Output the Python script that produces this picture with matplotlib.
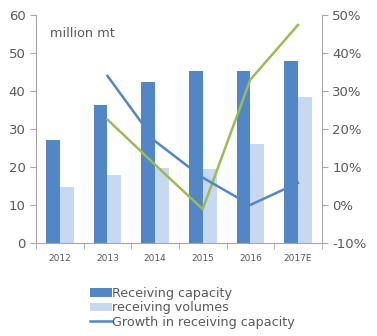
import matplotlib

matplotlib.use("Agg")
import matplotlib.pyplot as plt
import numpy as np

YEARS = ["2012", "2013", "2014", "2015", "2016", "2017E"]
CAPACITY = [27.1, 36.3, 42.4, 45.3, 45.3, 48.0]
VOLUMES = [14.7, 17.9, 19.8, 19.6, 26.1, 38.5]
# growth rates in percent, first year has no prior value
CAPACITY_GROWTH = [None, 34.0, 16.8, 7.2, 0.0, 5.8]
VOLUME_GROWTH = [None, 22.5, 10.6, -1.1, 33.0, 47.4]

DARK = "#5287c6"
LIGHT = "#c6d9f1"
GREEN = "#9bbb59"
GRAY = "#595959"
SPINE = "#a6a6a6"

fig = plt.figure(figsize=(3.77, 3.36), dpi=100)
ax = fig.add_axes([0.0955, 0.277, 0.758, 0.678])
x = np.arange(len(YEARS))
width = 0.29

ax.bar(x - width / 2, CAPACITY, width, color=DARK, label="Receiving capacity", zorder=2)
ax.bar(x + width / 2, VOLUMES, width, color=LIGHT, label="receiving volumes", zorder=2)
ax.set_xlim(-0.5, len(YEARS) - 0.5)
ax.set_ylim(0, 60)
ax.set_yticks(range(0, 61, 10))
ax.set_xticks(x, YEARS)
ax.set_xticks(np.arange(-0.5, len(YEARS)), minor=True)
ax.tick_params(axis="x", which="major", length=0, labelsize=6.5, labelcolor=GRAY, pad=8)
ax.tick_params(axis="x", which="minor", length=4, color=SPINE, direction="out")
ax.tick_params(axis="y", length=4, color=SPINE, labelsize=9.5, labelcolor=GRAY)
for side in ["top", "right"]:
    ax.spines[side].set_visible(False)
for side in ["left", "bottom"]:
    ax.spines[side].set_color(SPINE)
ax.text(0.05, 0.95, "million mt", transform=ax.transAxes, fontsize=9.3, color=GRAY, va="top")

ax2 = ax.twinx()
xs = x[1:]
ax2.plot(xs, VOLUME_GROWTH[1:], color=GREEN, linewidth=1.8, zorder=3)
ax2.plot(xs, CAPACITY_GROWTH[1:], color=DARK, linewidth=1.8, zorder=3,
         label="Growth in receiving capacity")
ax2.set_ylim(-10, 50)
ax2.set_yticks(range(-10, 51, 10))
ax2.set_yticklabels([f"{v}%" for v in range(-10, 51, 10)])
ax2.tick_params(axis="y", length=4, color=SPINE, labelsize=9.5, labelcolor=GRAY)
for side in ["top", "left", "bottom"]:
    ax2.spines[side].set_visible(False)
ax2.spines["right"].set_color(SPINE)

handles = ax.get_legend_handles_labels()[0] + ax2.get_legend_handles_labels()[0]
labels = ax.get_legend_handles_labels()[1] + ax2.get_legend_handles_labels()[1]
fig.legend(handles, labels, loc="upper left", bbox_to_anchor=(0.222, 0.165),
           frameon=False, fontsize=9.2, labelcolor=GRAY, handlelength=1.7,
           handleheight=0.6, handletextpad=0.05, labelspacing=0.1, borderpad=0)

fig.savefig("out.png", dpi=100)
